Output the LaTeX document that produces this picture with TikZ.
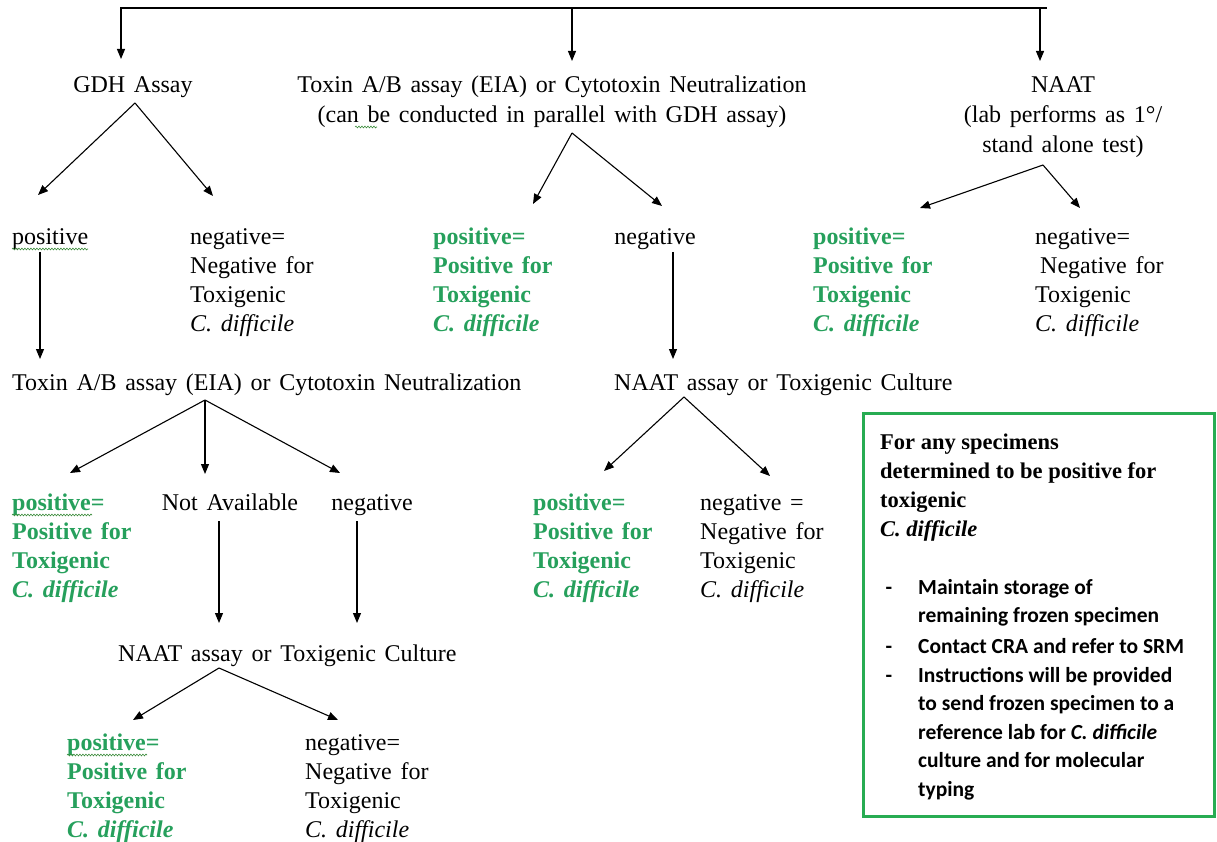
\documentclass[tikz,border=0pt]{standalone}
\usepackage{fontspec}
\setmainfont[WordSpace=1.45]{Liberation Serif}
\newfontfamily\plainserif{Liberation Serif}
\newfontfamily\calfont{Carlito}
\usetikzlibrary{arrows.meta,decorations.pathmorphing}
\definecolor{tgreen}{RGB}{38,160,92}
\definecolor{bgreen}{RGB}{40,172,82}
\definecolor{sqgreen}{RGB}{60,140,60}
\tikzset{
  txt/.style={inner sep=0pt, font=\fontsize{24}{29}\selectfont, align=left},
  ctxt/.style={inner sep=0pt, font=\fontsize{24}{30}\selectfont, align=center},
  grn/.style={inner sep=0pt, font=\fontsize{24}{29}\selectfont\bfseries, align=left, text=tgreen},
  boxhead/.style={inner sep=0pt, font=\plainserif\fontsize{22.5}{29}\selectfont\bfseries, align=left},
  boxtxt/.style={inner sep=0pt, font=\calfont\fontsize{21.5}{28.5}\selectfont\bfseries, align=left},
  arr/.style={-{Triangle[length=10pt,width=8pt]}, line width=1.1pt},
  squig/.style={sqgreen, line width=0.6pt, decorate, decoration={snake, amplitude=0.9pt, segment length=3pt}},
  greenbox/.style={draw=bgreen, line width=2.6pt}
}
\newcommand{\cdiff}{\textit{C. difficile}}
\begin{document}
\begin{tikzpicture}[x=1pt,y=-1pt]
\useasboundingbox (0,0) rectangle (1217,842);
% top bar
\coordinate (barL) at (120,8);
\coordinate (barR) at (1047,8);
\draw[line width=1.1pt] (barL) -- (barR);
\coordinate (b1) at (121,8);  \coordinate (e1) at (121,59);
\coordinate (b2) at (572,8);  \coordinate (e2) at (572,61);
\coordinate (b3) at (1040,8); \coordinate (e3) at (1040,61);
\draw[arr] (b1) -- (e1);
\draw[arr] (b2) -- (e2);
\draw[arr] (b3) -- (e3);

% level 1 nodes
\node[ctxt, anchor=north] (gdh) at (133,71) {\strut GDH Assay};
\node[ctxt, anchor=north] (tox1) at (552,71) {\strut Toxin A/B assay (EIA) or Cytotoxin Neutralization\\(can be conducted in parallel with GDH assay)};
\node[ctxt, anchor=north] (naat1) at (1063,71) {\strut NAAT\\(lab performs as 1°/\\stand alone test)};

% GDH branch
\coordinate (a1) at (135,103);
\coordinate (t11) at (38,195);
\coordinate (t12) at (213,196);
\draw[arr] (a1) -- (t11);
\draw[arr] (a1) -- (t12);
\node[txt, anchor=north west] (pos1) at (12,224) {\strut positive};
\node[txt, anchor=north west] (neg1) at (190,224) {\strut negative=\\Negative for\\Toxigenic\\\cdiff};
\coordinate (p1s) at (40,252);
\coordinate (p1e) at (40,359);
\draw[arr] (p1s) -- (p1e);
\node[txt, anchor=north west] (tox2) at (12,370) {\strut Toxin A/B assay (EIA) or Cytotoxin Neutralization};
\coordinate (a2) at (205,400);
\coordinate (t21) at (70,473);
\coordinate (t22) at (205,474);
\coordinate (t23) at (340,473);
\draw[arr] (a2) -- (t21);
\draw[arr] (a2) -- (t22);
\draw[arr] (a2) -- (t23);
\node[grn, anchor=north west] (pos2) at (12,490) {\strut positive=\\Positive for\\Toxigenic\\\cdiff};
\node[txt, anchor=north] (na) at (230,490) {\strut Not Available};
\node[txt, anchor=north] (neg2) at (372,490) {\strut negative};
\coordinate (nas) at (219,521); \coordinate (nae) at (219,623);
\coordinate (n2s) at (357,521); \coordinate (n2e) at (357,623);
\draw[arr] (nas) -- (nae);
\draw[arr] (n2s) -- (n2e);
\node[txt, anchor=north west] (naat2) at (118,641) {\strut NAAT assay or Toxigenic Culture};
\coordinate (a3) at (219,668);
\coordinate (t31) at (133,720);
\coordinate (t32) at (338,720);
\draw[arr] (a3) -- (t31);
\draw[arr] (a3) -- (t32);
\node[grn, anchor=north west] (pos3) at (67,730) {\strut positive=\\Positive for\\Toxigenic\\\cdiff};
\node[txt, anchor=north west] (neg3) at (305,730) {\strut negative=\\Negative for\\Toxigenic\\\cdiff};

% middle branch
\coordinate (am) at (572,133);
\coordinate (tm1) at (533,204);
\coordinate (tm2) at (662,206);
\draw[arr] (am) -- (tm1);
\draw[arr] (am) -- (tm2);
\node[grn, anchor=north west] (posM) at (433,224) {\strut positive=\\Positive for\\Toxigenic\\\cdiff};
\node[txt, anchor=north] (negM) at (655,224) {\strut negative};
\coordinate (nms) at (673,252); \coordinate (nme) at (673,359);
\draw[arr] (nms) -- (nme);
\node[txt, anchor=north west] (naatM) at (614,370) {\strut NAAT assay or Toxigenic Culture};
\coordinate (am2) at (684,397);
\coordinate (tm21) at (604,471);
\coordinate (tm22) at (770,476);
\draw[arr] (am2) -- (tm21);
\draw[arr] (am2) -- (tm22);
\node[grn, anchor=north west] (posM2) at (533,490) {\strut positive=\\Positive for\\Toxigenic\\\cdiff};
\node[txt, anchor=north west] (negM2) at (700,490) {\strut negative =\\Negative for\\Toxigenic\\\cdiff};

% right branch
\coordinate (ar) at (1043,165);
\coordinate (tr1) at (920,208);
\coordinate (tr2) at (1080,208);
\draw[arr] (ar) -- (tr1);
\draw[arr] (ar) -- (tr2);
\node[grn, anchor=north west] (posR) at (813,224) {\strut positive=\\Positive for\\Toxigenic\\\cdiff};
\node[txt, anchor=north west] (negR) at (1035,224) {\strut negative=\\\hspace*{5pt}Negative for\\Toxigenic\\\cdiff};

% spell-check squiggles
\draw[squig] (12,249) -- (88,249);
\draw[squig] (12,515) -- (92,515);
\draw[squig] (67,755) -- (147,755);
\draw[squig] (355,127) -- (377,127);

% green box
\node[greenbox, minimum width=351pt, minimum height=403pt, anchor=north west, inner sep=0pt] (box) at (862,412) {};
\node[boxhead, anchor=north west] (bh) at (880,429) {\strut For any specimens\\determined to be positive for\\toxigenic\\\cdiff};
\node[boxtxt, anchor=north] (d1) at (889,574) {\strut -};
\node[boxtxt, anchor=north] (d2) at (889,633) {\strut -};
\node[boxtxt, anchor=north] (d3) at (889,662) {\strut -};
\node[boxtxt, anchor=north west] (i1) at (918,574) {\strut Maintain storage of\\remaining frozen specimen};
\node[boxtxt, anchor=north west] (i2) at (918,633) {\strut Contact CRA and refer to SRM};
\node[boxtxt, anchor=north west] (i3) at (918,662) {\strut Instructions will be provided\\to send frozen specimen to a\\reference lab for \textit{C. difficile}\\culture and for molecular\\typing};
\end{tikzpicture}
\end{document}
